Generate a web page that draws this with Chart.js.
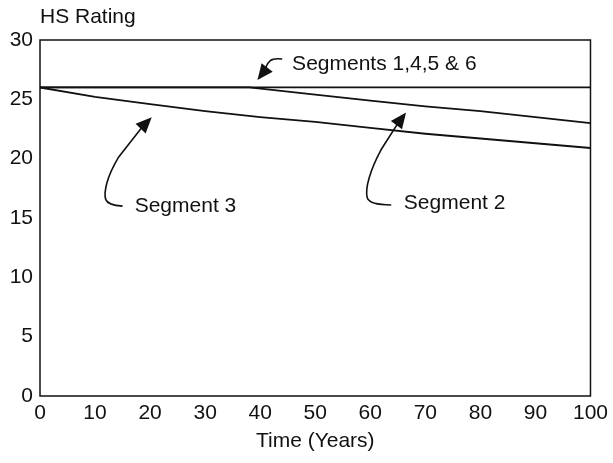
<!DOCTYPE html>
<html>
<head>
<meta charset="utf-8">
<script src="https://cdn.jsdelivr.net/npm/chart.js@4.4.1/dist/chart.umd.min.js"></script>
<style>
  html, body { margin: 0; padding: 0; background: #fff; }
  #wrap { width: 613px; height: 463px; }
</style>
</head>
<body>
<div id="wrap"><canvas id="hsChart" width="613" height="463"></canvas></div>
<script>
// Years and HS rating
const flatYears = [0, 100];
const flatRating = [26, 26];

const seg2Years = [0, 38, 50, 60, 70, 80, 90, 100];
const seg2Rating = [26, 26, 25.4, 24.9, 24.4, 24.0, 23.5, 23.0];

const seg3Years = [0, 10, 20, 30, 40, 50, 60, 70, 80, 90, 100];
const seg3Rating = [26, 25.2, 24.6, 24.0, 23.5, 23.1, 22.6, 22.1, 21.7, 21.3, 20.9];

const yTicks = [0, 5, 10, 15, 20, 25, 30];
const xTicks = [0, 10, 20, 30, 40, 50, 60, 70, 80, 90, 100];

const FONT = '"Liberation Sans", Arial, Helvetica, sans-serif';
const INK = '#111';

// labels with curly arrows, in data units (years, rating)
const callouts = [
    { text: 'Segments 1,4,5 & 6', at: [45.8, 27.5],
      path: [[44.0, 28.4], [42.4, 28.48], [41.3, 28.06], [40.9, 27.47], [39.5, 26.62]] },
    { text: 'Segment 3', at: [17.2, 15.5],
      path: [[15.0, 16.0], [12.3, 16.1], [11.6, 17.0], [12.7, 18.9], [15.9, 21.4], [20.3, 23.5]] },
    { text: 'Segment 2', at: [66.1, 15.8],
      path: [[63.8, 16.1], [59.8, 16.1], [59.1, 17.3], [60.5, 19.5], [63.4, 22.0], [66.5, 23.9]] }
];

const toPoints = (xs, ys) => xs.map((x, i) => ({ x: x, y: ys[i] }));

const framePlugin = {
    id: 'frame',
    afterDraw(chart) {
        const { ctx, chartArea, scales } = chart;
        ctx.save();
        ctx.strokeStyle = INK;
        ctx.lineWidth = 1.5;
        ctx.strokeRect(chartArea.left, chartArea.top, chartArea.right - chartArea.left, chartArea.bottom - chartArea.top);

        // y axis caption on top
        ctx.fillStyle = INK;
        ctx.font = '21px ' + FONT;
        ctx.textBaseline = 'alphabetic';
        ctx.textAlign = 'left';
        ctx.fillText('HS Rating', chartArea.left, 23);

        const sx = scales.x, sy = scales.y;
        callouts.forEach(c => {
            ctx.fillText(c.text, sx.getPixelForValue(c.at[0]), sy.getPixelForValue(c.at[1]));

            const pts = c.path.map(p => [sx.getPixelForValue(p[0]), sy.getPixelForValue(p[1])]);
            const tip = pts[pts.length - 1];
            const prev = pts[pts.length - 2];
            const ang = Math.atan2(tip[1] - prev[1], tip[0] - prev[0]);
            const headLen = 16, headHalf = 7;
            const base = [tip[0] - Math.cos(ang) * headLen * 0.8, tip[1] - Math.sin(ang) * headLen * 0.8];

            ctx.beginPath();
            ctx.lineWidth = 1.6;
            ctx.moveTo(pts[0][0], pts[0][1]);
            for (let i = 1; i < pts.length - 2; i++) {
                const mx = (pts[i][0] + pts[i + 1][0]) / 2;
                const my = (pts[i][1] + pts[i + 1][1]) / 2;
                ctx.quadraticCurveTo(pts[i][0], pts[i][1], mx, my);
            }
            ctx.lineTo(base[0], base[1]);
            ctx.stroke();

            // filled arrowhead
            ctx.beginPath();
            ctx.moveTo(tip[0], tip[1]);
            ctx.lineTo(tip[0] - Math.cos(ang) * headLen + Math.sin(ang) * headHalf,
                       tip[1] - Math.sin(ang) * headLen - Math.cos(ang) * headHalf);
            ctx.lineTo(tip[0] - Math.cos(ang) * headLen - Math.sin(ang) * headHalf,
                       tip[1] - Math.sin(ang) * headLen + Math.cos(ang) * headHalf);
            ctx.closePath();
            ctx.fill();
        });
        ctx.restore();
    }
};

const lineStyle = {
    borderColor: INK,
    borderWidth: 1.8,
    pointRadius: 0,
    fill: false,
    tension: 0
};

new Chart(document.getElementById('hsChart'), {
    type: 'line',
    data: {
        datasets: [
            Object.assign({ label: 'Segments 1,4,5 & 6', data: toPoints(flatYears, flatRating) }, lineStyle),
            Object.assign({ label: 'Segment 2', data: toPoints(seg2Years, seg2Rating) }, lineStyle),
            Object.assign({ label: 'Segment 3', data: toPoints(seg3Years, seg3Rating) }, lineStyle)
        ]
    },
    options: {
        responsive: false,
        animation: false,
        layout: { padding: { top: 40, right: 21, bottom: 0, left: 0 } },
        plugins: {
            legend: { display: false },
            tooltip: { enabled: false }
        },
        scales: {
            x: {
                type: 'linear',
                min: 0,
                max: 100,
                afterBuildTicks: axis => { axis.ticks = xTicks.map(v => ({ value: v })); },
                afterFit: axis => { axis.height = 67; },
                grid: { display: false, drawTicks: false },
                border: { display: false },
                ticks: { color: INK, padding: 5, maxRotation: 0, font: { family: FONT, size: 21 } },
                title: {
                    display: true,
                    text: 'Time (Years)',
                    color: INK,
                    font: { family: FONT, size: 21 },
                    padding: { top: 0, bottom: 9 }
                }
            },
            y: {
                min: 0,
                max: 30,
                afterBuildTicks: axis => { axis.ticks = yTicks.map(v => ({ value: v })); },
                afterFit: axis => { axis.width = 40; },
                grid: { display: false, drawTicks: false },
                border: { display: false },
                ticks: { color: INK, padding: 7, font: { family: FONT, size: 21 } }
            }
        }
    },
    plugins: [framePlugin]
});
</script>
</body>
</html>
